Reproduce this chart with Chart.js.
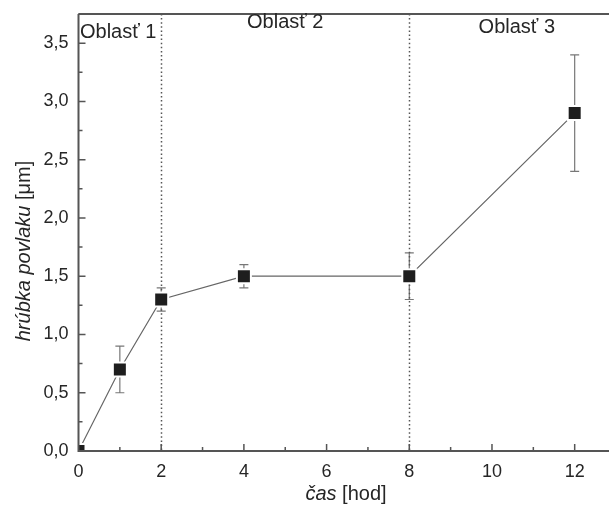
<!DOCTYPE html>
<html>
<head>
<meta charset="utf-8">
<script src="https://cdn.jsdelivr.net/npm/chart.js@4.4.1/dist/chart.umd.min.js"></script>
<style>
html,body{margin:0;padding:0;background:#fff;}
#wrap{position:relative;width:609px;height:506px;}
</style>
</head>
<body>
<div id="wrap"><canvas id="c" width="609" height="506"></canvas></div>
<script>
// ---- data ----
const timeHours = [0, 1, 2, 4, 8, 12];
const thickness = [0.0, 0.7, 1.3, 1.5, 1.5, 2.9];
const errorPlus = [0, 0.2, 0.1, 0.1, 0.2, 0.5];
const errorMinus = [0, 0.2, 0.1, 0.1, 0.2, 0.5];
const regionBoundaries = [2, 8];
const regionLabels = ['Oblasť 1', 'Oblasť 2', 'Oblasť 3'];
const regionLabelX = [0.96, 5.0, 10.6];
const regionLabelY = [3.59, 3.68, 3.63];
const xTitleItalic = 'čas';
const xTitleNormal = ' [hod]';
const yTitleItalic = 'hrúbka povlaku';
const yTitleNormal = ' [μm]';

const FONT = '"Liberation Sans", Arial, Helvetica, sans-serif';
const TEXT = '#262626';
const AXIS = '#555';

const points = timeHours.map((t, i) => ({x: t, y: thickness[i]}));

const errorBarsPlugin = {
  id: 'errorBars',
  beforeDatasetsDraw(chart) {
    const {ctx, scales: {x, y}} = chart;
    ctx.save();
    ctx.strokeStyle = '#777';
    ctx.lineWidth = 1.2;
    timeHours.forEach((t, i) => {
      if (!errorPlus[i] && !errorMinus[i]) return;
      const px = x.getPixelForValue(t);
      const top = y.getPixelForValue(thickness[i] + errorPlus[i]);
      const bot = y.getPixelForValue(thickness[i] - errorMinus[i]);
      ctx.beginPath();
      ctx.moveTo(px, top); ctx.lineTo(px, bot);
      ctx.moveTo(px - 4.5, top); ctx.lineTo(px + 4.5, top);
      ctx.moveTo(px - 4.5, bot); ctx.lineTo(px + 4.5, bot);
      ctx.stroke();
    });
    ctx.strokeStyle = '#555';
    ctx.lineWidth = 1.5;
    ctx.setLineDash([1.5, 2.6]);
    regionBoundaries.forEach(b => {
      const px = Math.round(x.getPixelForValue(b)) + 0.5;
      ctx.beginPath();
      ctx.moveTo(px, chart.chartArea.top);
      ctx.lineTo(px, chart.chartArea.bottom);
      ctx.stroke();
    });
    ctx.restore();
  }
};

const framePlugin = {
  id: 'frame',
  afterDatasetsDraw(chart) {
    const {ctx, chartArea: a, scales: {x, y}} = chart;
    ctx.save();
    ctx.strokeStyle = AXIS;
    ctx.lineWidth = 2;
    ctx.beginPath();
    ctx.moveTo(a.left, a.top); ctx.lineTo(a.right + 2, a.top);
    ctx.moveTo(a.left, a.top); ctx.lineTo(a.left, a.bottom);
    ctx.moveTo(a.left - 1, a.bottom); ctx.lineTo(a.right + 2, a.bottom);
    ctx.stroke();
    ctx.lineWidth = 1.5;
    ctx.beginPath();
    for (let v = 1; v <= 12; v++) {
      const px = x.getPixelForValue(v);
      const len = v % 2 === 0 ? 7 : 4;
      ctx.moveTo(px, a.bottom); ctx.lineTo(px, a.bottom - len);
    }
    for (let v = 0.25; v <= 3.75; v += 0.25) {
      const py = y.getPixelForValue(v);
      const major = Math.abs(v * 2 - Math.round(v * 2)) < 1e-6;
      ctx.moveTo(a.left, py); ctx.lineTo(a.left + (major ? 7 : 4), py);
    }
    ctx.stroke();
    ctx.fillStyle = TEXT;
    ctx.font = '20px ' + FONT;
    ctx.textAlign = 'center';
    ctx.textBaseline = 'middle';
    regionLabels.forEach((s, i) => {
      ctx.fillText(s, x.getPixelForValue(regionLabelX[i]), y.getPixelForValue(regionLabelY[i]));
    });
    const drawMixed = (it, nm, cx, cy) => {
      ctx.font = 'italic 20px ' + FONT;
      const w1 = ctx.measureText(it).width;
      ctx.font = '20px ' + FONT;
      const w2 = ctx.measureText(nm).width;
      const start = cx - (w1 + w2) / 2;
      ctx.textAlign = 'left';
      ctx.font = 'italic 20px ' + FONT;
      ctx.fillText(it, start, cy);
      ctx.font = '20px ' + FONT;
      ctx.fillText(nm, start + w1, cy);
    };
    drawMixed(xTitleItalic, xTitleNormal, 346, 494);
    ctx.save();
    ctx.translate(24, 251);
    ctx.rotate(-Math.PI / 2);
    drawMixed(yTitleItalic, yTitleNormal, 0, 0);
    ctx.restore();
    ctx.restore();
  }
};

const zeroPad = s => { s.paddingTop = 0; s.paddingBottom = 0; s.paddingLeft = 0; s.paddingRight = 0; };

new Chart(document.getElementById('c'), {
  type: 'line',
  data: {
    datasets: [{
      data: points,
      borderColor: '#666',
      borderWidth: 1.2,
      pointStyle: 'rect',
      pointRadius: 9.9,
      pointHoverRadius: 9.9,
      pointBackgroundColor: '#1e1e1e',
      pointBorderColor: '#fff',
      pointBorderWidth: 2,
      tension: 0,
      clip: 0
    }]
  },
  options: {
    responsive: false,
    animation: false,
    events: [],
    layout: {autoPadding: false, padding: {left: 0, top: 14, right: 0, bottom: 0}},
    plugins: {legend: {display: false}, tooltip: {enabled: false}},
    scales: {
      x: {
        type: 'linear',
        min: 0, max: 12.83,
        grid: {display: false, drawTicks: false},
        border: {display: false},
        ticks: {
          stepSize: 2, includeBounds: false, padding: 10,
          color: TEXT, font: {family: FONT, size: 18}, maxRotation: 0,
          callback: v => String(v)
        },
        afterFit: s => { s.height = 55; zeroPad(s); }
      },
      y: {
        type: 'linear',
        min: 0, max: 3.75,
        grid: {display: false, drawTicks: false},
        border: {display: false},
        ticks: {
          stepSize: 0.5, includeBounds: false, padding: 10,
          color: TEXT, font: {family: FONT, size: 18},
          callback: v => v.toFixed(1).replace('.', ',')
        },
        afterFit: s => { s.width = 78.5; zeroPad(s); }
      }
    }
  },
  plugins: [errorBarsPlugin, framePlugin]
});
</script>
</body>
</html>
